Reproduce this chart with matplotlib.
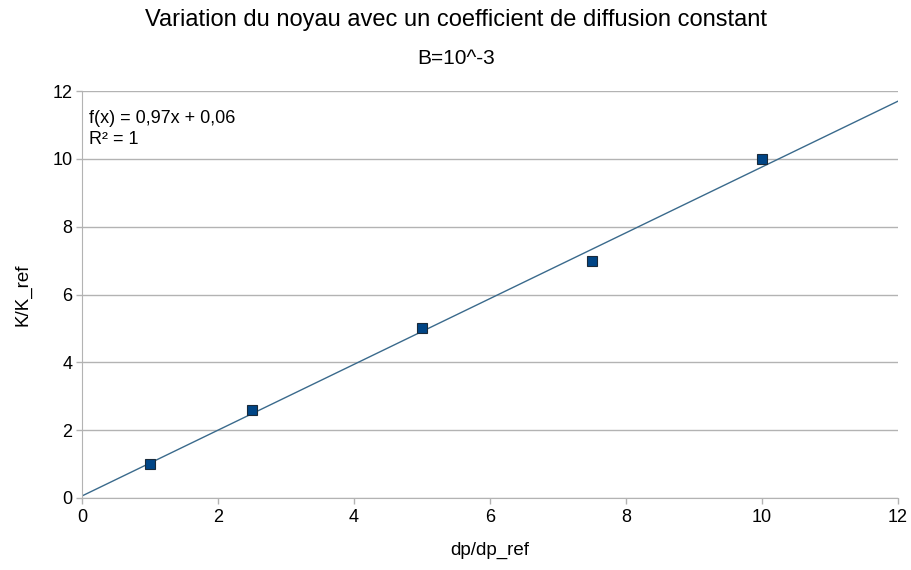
import matplotlib.pyplot as plt
import numpy as np

plt.rcParams['font.family'] = ['Liberation Sans', 'DejaVu Sans']

dp_ratio = [1, 2.5, 5, 7.5, 10]
k_ratio = [1, 2.6, 5, 7, 10]
slope = 0.97
intercept = 0.06
x_ticks = [0, 2, 4, 6, 8, 10, 12]
y_ticks = [0, 2, 4, 6, 8, 10, 12]

fig = plt.figure(figsize=(9.12, 5.7), dpi=100)
ax = fig.add_axes([82 / 912, 1 - 498 / 570, (898 - 82) / 912, (498 - 91) / 570])

# droite de tendance
xs = np.array([0, 12])
ax.plot(xs, slope * xs + intercept, color='#3a6a8c', linewidth=1.0, zorder=2)
ax.plot(dp_ratio, k_ratio, linestyle='none', marker='s', markersize=7,
        markerfacecolor='#004586', markeredgecolor='#1a2a3a', markeredgewidth=0.8, zorder=3)

ax.set_xlim(0, 12)
ax.set_ylim(0, 12)
ax.set_xticks(x_ticks)
ax.set_yticks(y_ticks)
ax.grid(axis='y', color='#b3b3b3', linewidth=1)
ax.set_axisbelow(True)
for s in ['top', 'right']:
    ax.spines[s].set_visible(False)
for s in ['left', 'bottom']:
    ax.spines[s].set_color('#b3b3b3')
ax.tick_params(colors='#b3b3b3', labelcolor='black', labelsize=13, length=4, width=1)
ax.tick_params(axis='y', pad=3)
ax.tick_params(axis='x', pad=4)

ax.set_xlabel('dp/dp_ref', fontsize=13.5, labelpad=11)
ax.set_ylabel('K/K_ref', fontsize=13.5, labelpad=15)

fig.text(0.5, 1 - 20 / 570, 'Variation du noyau avec un coefficient de diffusion constant',
         ha='center', va='center', fontsize=17)
fig.text(0.5, 1 - 59 / 570, 'B=10^-3', ha='center', va='center', fontsize=15)

ax.text(0.1, 11.45, 'f(x) = 0,97x + 0,06\nR² = 1', fontsize=13, va='top', ha='left',
        linespacing=1.3)

fig.savefig('out.png', dpi=100)
